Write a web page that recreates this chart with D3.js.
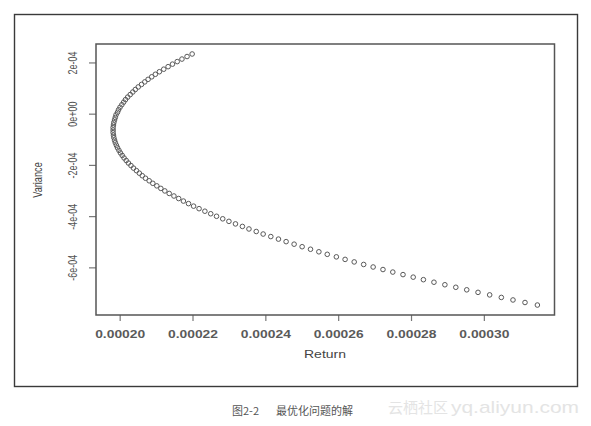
<!DOCTYPE html>
<html>
<head>
<meta charset="utf-8">
<script src="https://cdn.jsdelivr.net/npm/d3@7"></script>
<style>
  body { margin: 0; background: #fff; }
  svg { display: block; font-family: "Liberation Sans", Arial, sans-serif; }
</style>
</head>
<body>
<div class="chart"></div>
<script>
// frontier points (Return on x, Variance on y)
var returns = [
  2.199e-4, 2.185e-4, 2.171e-4, 2.158e-4, 2.145e-4, 2.133e-4, 2.121e-4, 2.109e-4, 2.098e-4, 2.088e-4,
  2.078e-4, 2.069e-4, 2.060e-4, 2.051e-4, 2.043e-4, 2.036e-4, 2.029e-4, 2.022e-4, 2.016e-4, 2.011e-4,
  2.006e-4, 2.001e-4, 1.997e-4, 1.994e-4, 1.990e-4, 1.988e-4, 1.986e-4, 1.984e-4, 1.983e-4, 1.982e-4,
  1.982e-4, 1.982e-4, 1.983e-4, 1.984e-4, 1.986e-4, 1.988e-4, 1.991e-4, 1.994e-4, 1.998e-4, 2.002e-4,
  2.007e-4, 2.012e-4, 2.018e-4, 2.024e-4, 2.031e-4, 2.038e-4, 2.046e-4, 2.054e-4, 2.062e-4, 2.071e-4,
  2.081e-4, 2.091e-4, 2.102e-4, 2.113e-4, 2.124e-4, 2.136e-4, 2.149e-4, 2.162e-4, 2.175e-4, 2.189e-4,
  2.203e-4, 2.218e-4, 2.234e-4, 2.250e-4, 2.266e-4, 2.283e-4, 2.300e-4, 2.318e-4, 2.337e-4, 2.355e-4,
  2.375e-4, 2.394e-4, 2.415e-4, 2.436e-4, 2.457e-4, 2.479e-4, 2.501e-4, 2.524e-4, 2.547e-4, 2.570e-4,
  2.595e-4, 2.619e-4, 2.644e-4, 2.670e-4, 2.696e-4, 2.723e-4, 2.750e-4, 2.778e-4, 2.806e-4, 2.834e-4,
  2.863e-4, 2.893e-4, 2.923e-4, 2.953e-4, 2.984e-4, 3.016e-4, 3.048e-4, 3.080e-4, 3.113e-4, 3.147e-4
];
var variances = [
  2.330e-4, 2.231e-4, 2.132e-4, 2.033e-4, 1.934e-4, 1.835e-4, 1.736e-4, 1.637e-4, 1.538e-4, 1.439e-4,
  1.340e-4, 1.241e-4, 1.142e-4, 1.043e-4, 0.944e-4, 0.845e-4, 0.746e-4, 0.647e-4, 0.548e-4, 0.449e-4,
  0.350e-4, 0.251e-4, 0.152e-4, 0.053e-4, -0.046e-4, -0.145e-4, -0.244e-4, -0.343e-4, -0.442e-4, -0.541e-4,
  -0.640e-4, -0.739e-4, -0.838e-4, -0.937e-4, -1.036e-4, -1.135e-4, -1.234e-4, -1.333e-4, -1.432e-4, -1.531e-4,
  -1.630e-4, -1.729e-4, -1.828e-4, -1.927e-4, -2.026e-4, -2.125e-4, -2.224e-4, -2.323e-4, -2.422e-4, -2.521e-4,
  -2.620e-4, -2.719e-4, -2.818e-4, -2.917e-4, -3.016e-4, -3.115e-4, -3.214e-4, -3.313e-4, -3.412e-4, -3.511e-4,
  -3.610e-4, -3.709e-4, -3.808e-4, -3.907e-4, -4.006e-4, -4.105e-4, -4.204e-4, -4.303e-4, -4.402e-4, -4.501e-4,
  -4.600e-4, -4.699e-4, -4.798e-4, -4.897e-4, -4.996e-4, -5.095e-4, -5.194e-4, -5.293e-4, -5.392e-4, -5.491e-4,
  -5.590e-4, -5.689e-4, -5.788e-4, -5.887e-4, -5.986e-4, -6.085e-4, -6.184e-4, -6.283e-4, -6.382e-4, -6.481e-4,
  -6.580e-4, -6.679e-4, -6.778e-4, -6.877e-4, -6.976e-4, -7.075e-4, -7.174e-4, -7.273e-4, -7.372e-4, -7.471e-4
];

var xTicks = [0.00020, 0.00022, 0.00024, 0.00026, 0.00028, 0.00030];
var xTickLabels = ["0.00020", "0.00022", "0.00024", "0.00026", "0.00028", "0.00030"];
var yTicks = [2e-4, 0, -2e-4, -4e-4, -6e-4];
var yTickLabels = ["2e-04", "0e+00", "-2e-04", "-4e-04", "-6e-04"];

var xTitle = "Return";
var yTitle = "Variance";
var figNo = "图2-2";
var caption = "最优化问题的解";
var watermark1 = "云栖社区";
var watermark2 = "yq.aliyun.com";

var svgWidth = 591;
var svgHeight = 426;

// plot region (R style box)
var plot = { left: 96, top: 44, right: 554.5, bottom: 315 };

var svg = d3.select(".chart")
  .append("svg")
  .attr("width", svgWidth)
  .attr("height", svgHeight);

svg.append("rect")
  .attr("width", svgWidth)
  .attr("height", svgHeight)
  .attr("fill", "#fff");

// outer frame of the figure
svg.append("rect")
  .attr("x", 14.5)
  .attr("y", 14.5)
  .attr("width", 563)
  .attr("height", 372)
  .attr("fill", "none")
  .attr("stroke", "#3a3a3a")
  .attr("stroke-width", 1.4);

var xScale = d3.scaleLinear()
  .domain([0.0001935, 0.0003194])
  .range([plot.left, plot.right]);

var yScale = d3.scaleLinear()
  .domain([-7.86e-4, 2.72e-4])
  .range([plot.bottom, plot.top]);

var bottomAxis = d3.axisBottom(xScale)
  .tickValues(xTicks)
  .tickSize(6)
  .tickPadding(10)
  .tickFormat(function(d, i) { return xTickLabels[i]; });

var leftAxis = d3.axisLeft(yScale)
  .tickValues(yTicks)
  .tickSize(7)
  .tickPadding(14)
  .tickFormat(function(d, i) { return yTickLabels[i]; });

var gx = svg.append("g")
  .attr("transform", "translate(0," + plot.bottom + ")")
  .call(bottomAxis);
gx.select(".domain").remove();
gx.selectAll(".tick line").attr("stroke", "#777").attr("stroke-width", 1.2);
gx.selectAll(".tick text")
  .attr("fill", "#5a5a5a")
  .attr("font-size", 10.5)
  .attr("font-weight", "bold")
  .attr("textLength", 50)
  .attr("lengthAdjust", "spacingAndGlyphs")
  .attr("font-family", "Liberation Sans, Arial, sans-serif");

var gy = svg.append("g")
  .attr("transform", "translate(" + plot.left + ",0)")
  .call(leftAxis);
gy.select(".domain").remove();
gy.selectAll(".tick line").attr("stroke", "#777").attr("stroke-width", 1.2);
// rotated labels, squeezed along their length like the reference
gy.selectAll(".tick text")
  .attr("fill", "#555")
  .attr("font-size", 10)
  .attr("font-family", "Liberation Sans, Arial, sans-serif")
  .attr("text-anchor", "middle")
  .attr("x", null)
  .attr("dy", null)
  .attr("y", 0)
  .attr("transform", "translate(-19,0) rotate(-90) scale(0.9,1.35)");

// plot box
svg.append("rect")
  .attr("x", plot.left)
  .attr("y", plot.top)
  .attr("width", plot.right - plot.left)
  .attr("height", plot.bottom - plot.top)
  .attr("fill", "none")
  .attr("stroke", "#555")
  .attr("stroke-width", 1.5);

var points = returns.map(function(r, i) {
  return { ret: r, variance: variances[i] };
});

svg.append("g")
  .selectAll("circle")
  .data(points)
  .enter().append("circle")
    .attr("cx", function(d) { return xScale(d.ret); })
    .attr("cy", function(d) { return yScale(d.variance); })
    .attr("r", 2.3)
    .attr("fill", "none")
    .attr("stroke", "#595959")
    .attr("stroke-width", 1);

// axis titles
svg.append("text")
  .attr("x", 325)
  .attr("y", 358)
  .attr("text-anchor", "middle")
  .attr("font-size", 10.5)
  .attr("fill", "#444")
  .attr("textLength", 42)
  .attr("lengthAdjust", "spacingAndGlyphs")
  .text(xTitle);

svg.append("text")
  .attr("transform", "translate(42,180) rotate(-90) scale(0.92,1.3)")
  .attr("text-anchor", "middle")
  .attr("font-size", 10)
  .attr("fill", "#444")
  .text(yTitle);

// caption under the frame
svg.append("text")
  .attr("x", 232)
  .attr("y", 415)
  .attr("font-size", 11)
  .attr("fill", "#555")
  .attr("font-family", "Noto Sans CJK SC, sans-serif")
  .text(figNo);

svg.append("text")
  .attr("x", 276)
  .attr("y", 415)
  .attr("font-size", 11)
  .attr("fill", "#555")
  .attr("font-family", "Noto Sans CJK SC, sans-serif")
  .text(caption);

// faint watermark
svg.append("text")
  .attr("x", 388)
  .attr("y", 413)
  .attr("font-size", 15)
  .attr("fill", "#e4e4e4")
  .attr("font-family", "Noto Sans CJK SC, sans-serif")
  .text(watermark1);

svg.append("text")
  .attr("x", 451)
  .attr("y", 413)
  .attr("font-size", 17)
  .attr("fill", "#e4e4e4")
  .attr("textLength", 128)
  .attr("lengthAdjust", "spacingAndGlyphs")
  .text(watermark2);
</script>
</body>
</html>
